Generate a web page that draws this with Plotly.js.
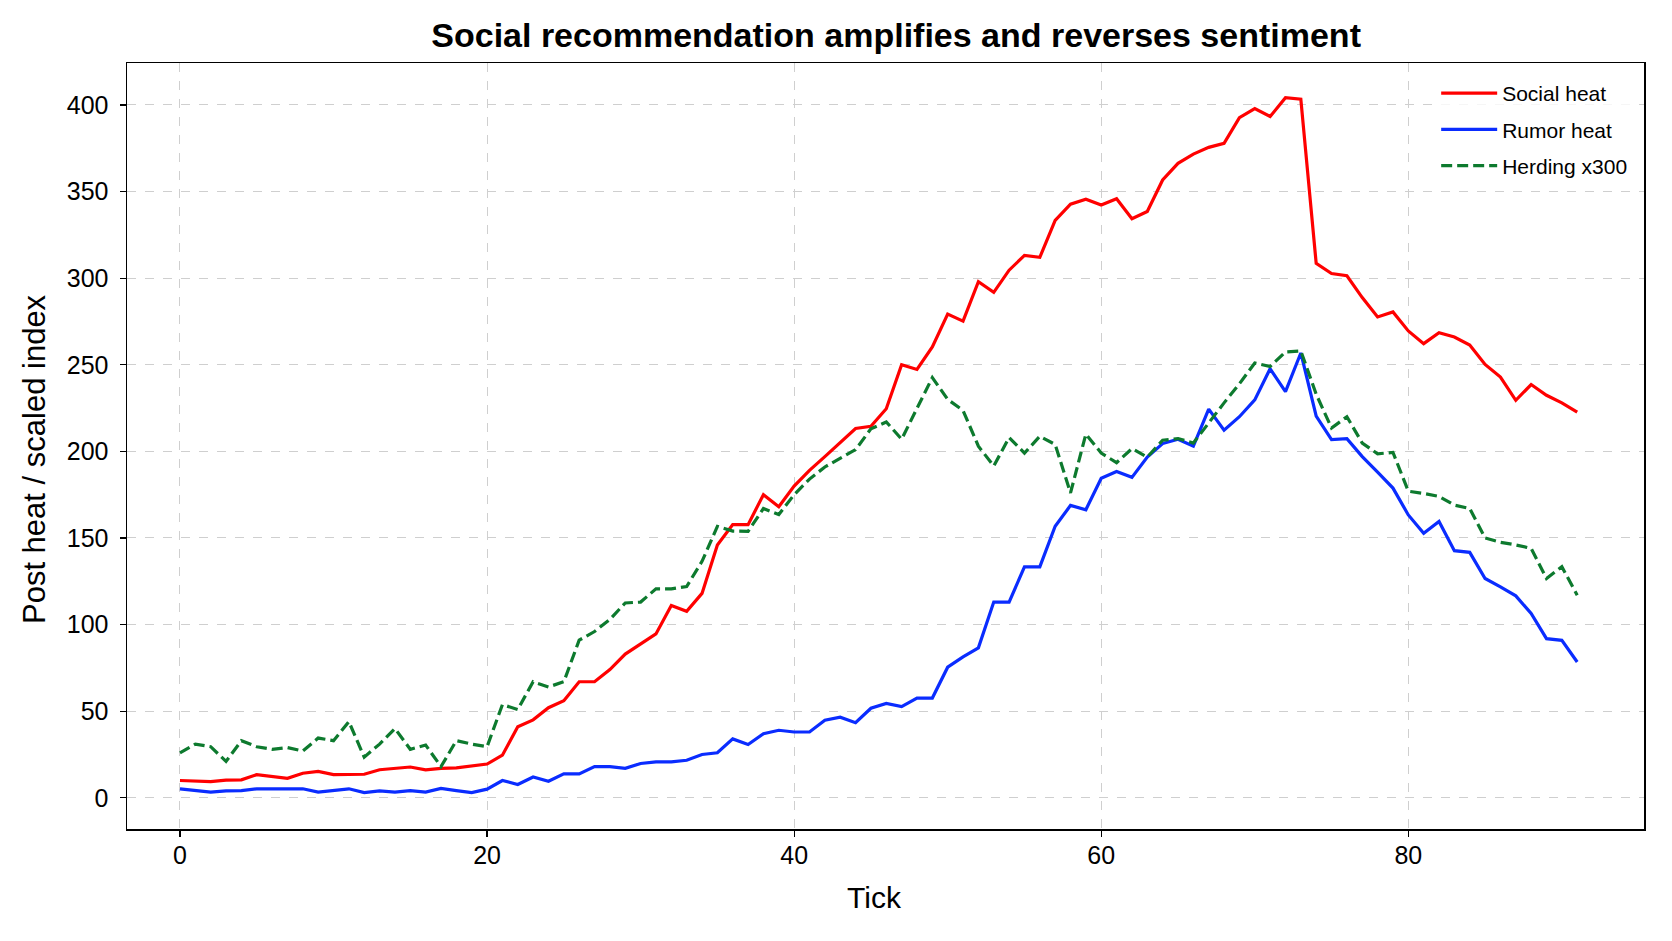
<!DOCTYPE html>
<html>
<head>
<meta charset="utf-8">
<script src="https://cdn.plot.ly/plotly-3.0.1.min.js"></script>
<style>
  html, body { margin: 0; padding: 0; background: #fff; }
  #chart { width: 1672px; height: 941px; }
</style>
</head>
<body>
<div id="chart"></div>
<script>
const socialHeat = [
  10, 9.6, 9.4, 10.2, 10.4, 13.4, 12.3, 11.3, 14.2, 15.2,
  13.4, 13.6, 13.6, 16.2, 16.9, 17.8, 16.1, 17, 17.3, 18.2,
  19.5, 24.6, 41, 45, 52, 56, 67, 67, 74, 83,
  89, 94.6, 111, 107.7, 118, 146, 157.7, 157.7, 175, 168,
  180, 189, 197, 205, 213.2, 214.5, 224.6, 250, 247.3, 260.3,
  279.3, 275.2, 298, 291.8, 304.6, 313.1, 312, 333.4, 342.7, 345.6,
  342.2, 345.8, 334.3, 338.5, 356.7, 366.3, 371.6, 375.5, 377.8, 392.7,
  397.9, 393.3, 404.2, 403.3, 308.5, 302.7, 301.4, 288.8, 277.6, 280.5,
  269.5, 262.2, 268.5, 266, 261.4, 250.2, 242.9, 229.5, 238.6, 232.4,
  228, 222.6,
]

const rumorHeat = [
  5.2, 4.2, 3.3, 4, 4.2, 5.2, 5.2, 5.2, 5.2, 3.3,
  4.2, 5.2, 3, 4, 3.3, 4.2, 3.3, 5.4, 4.2, 3,
  5, 10, 7.7, 12, 9.6, 13.8, 13.8, 18, 18, 17,
  19.8, 20.8, 20.8, 21.7, 25, 26, 34, 30.8, 37, 39,
  38, 38, 44.8, 46.5, 43.4, 51.7, 54.5, 52.7, 57.6, 57.6,
  75.4, 81.4, 86.6, 113, 113, 133.3, 133.3, 156.8, 168.8, 166.3,
  184.5, 188.4, 185, 196.7, 204.5, 207, 203, 224.4, 212.2, 220,
  229.7, 247.7, 234.5, 256.8, 220.3, 206.8, 207.3, 197, 188, 178.8,
  163.3, 152.7, 159.5, 142.7, 141.7, 126.6, 121.8, 116.6, 106.4, 91.9,
  90.9, 78.4,
]

const herding = [
  26, 31, 29.5, 21, 33, 29.5, 28, 29, 27, 34.5,
  33, 44, 23.5, 31, 40, 28, 30.5, 18, 33, 31,
  29.5, 53.8, 51, 67, 64, 67, 91, 96, 103, 112.5,
  113, 120.6, 120.6, 122, 136.5, 156.7, 154, 153.8, 167, 163.5,
  175, 184, 191, 196, 201, 213, 217, 207, 224.6, 242.6,
  230, 223.6, 203, 191.5, 208, 199, 208.7, 204, 176, 210,
  199, 193.5, 201.6, 196.7, 206.4, 207.4, 204.8, 216.7, 228, 239,
  251, 249, 257.4, 258, 233, 213.5, 220, 204.8, 198.6, 199.4,
  177, 175.7, 174, 169, 167, 150, 147.5, 146, 144, 126.6,
  133.4, 117,
]

const ticks = socialHeat.map((_, i) => i)
const xTicks = [0, 20, 40, 60, 80]
const yTicks = [0, 50, 100, 150, 200, 250, 300, 350, 400]

const font = 'Liberation Sans, Arial, sans-serif'

const traces = [
  { x: ticks, y: socialHeat, name: 'Social heat', legendgroup: 'a', type: 'scatter', mode: 'lines', line: { color: '#ff0000', width: 3.2 } },
  { x: ticks, y: rumorHeat, name: 'Rumor heat', legendgroup: 'b', type: 'scatter', mode: 'lines', line: { color: '#0a2cff', width: 3.2 } },
  { x: ticks, y: herding, name: 'Herding x300', legendgroup: 'c', type: 'scatter', mode: 'lines', line: { color: '#0d7a2e', width: 3.2, dash: '11px,5px' } },
]

const axis = {
  showline: true,
  mirror: true,
  linecolor: '#000',
  linewidth: 1.5,
  ticks: 'outside',
  ticklen: 6,
  tickwidth: 1.2,
  tickcolor: '#000',
  showgrid: true,
  gridcolor: '#cfcfcf',
  griddash: 'dash',
  gridwidth: 1,
  zeroline: false,
  tickfont: { family: font, size: 25, color: '#000' },
}

const layout = {
  width: 1672,
  height: 941,
  paper_bgcolor: '#fff',
  plot_bgcolor: '#fff',
  margin: { l: 127, r: 28, t: 63, b: 112 },
  title: {
    text: '<b>Social recommendation amplifies and reverses sentiment</b>',
    font: { family: font, size: 34, color: '#000' },
    x: 0.507,
    xref: 'paper',
    y: 1 - 35 / 941,
    yref: 'container',
    yanchor: 'middle',
  },
  xaxis: {
    ...axis,
    range: [-3.45, 95.35],
    tickvals: xTicks,
    ticklabelstandoff: -3,
  },
  yaxis: {
    ...axis,
    range: [-18, 424.2],
    tickvals: yTicks,
    ticklabelstandoff: 6,
  },
  annotations: [
    {
      text: 'Tick', xref: 'paper', yref: 'paper', x: 0.493, y: -0.0896,
      xanchor: 'center', yanchor: 'middle', showarrow: false,
      font: { family: font, size: 30, color: '#000' },
    },
    {
      text: 'Post heat / scaled index', xref: 'paper', yref: 'paper', x: -0.0613, y: 0.483,
      xanchor: 'center', yanchor: 'middle', showarrow: false, textangle: -90,
      font: { family: font, size: 31, color: '#000' },
    },
  ],
  showlegend: true,
  legend: {
    x: 0.863,
    y: 0.987,
    xanchor: 'left',
    yanchor: 'top',
    bgcolor: 'rgba(255,255,255,0.8)',
    borderwidth: 0,
    font: { family: font, size: 21, color: '#000' },
    itemwidth: 56,
    tracegroupgap: 6,
  },
}

Plotly.newPlot('chart', traces, layout, { displayModeBar: false, staticPlot: true })
</script>
</body>
</html>
